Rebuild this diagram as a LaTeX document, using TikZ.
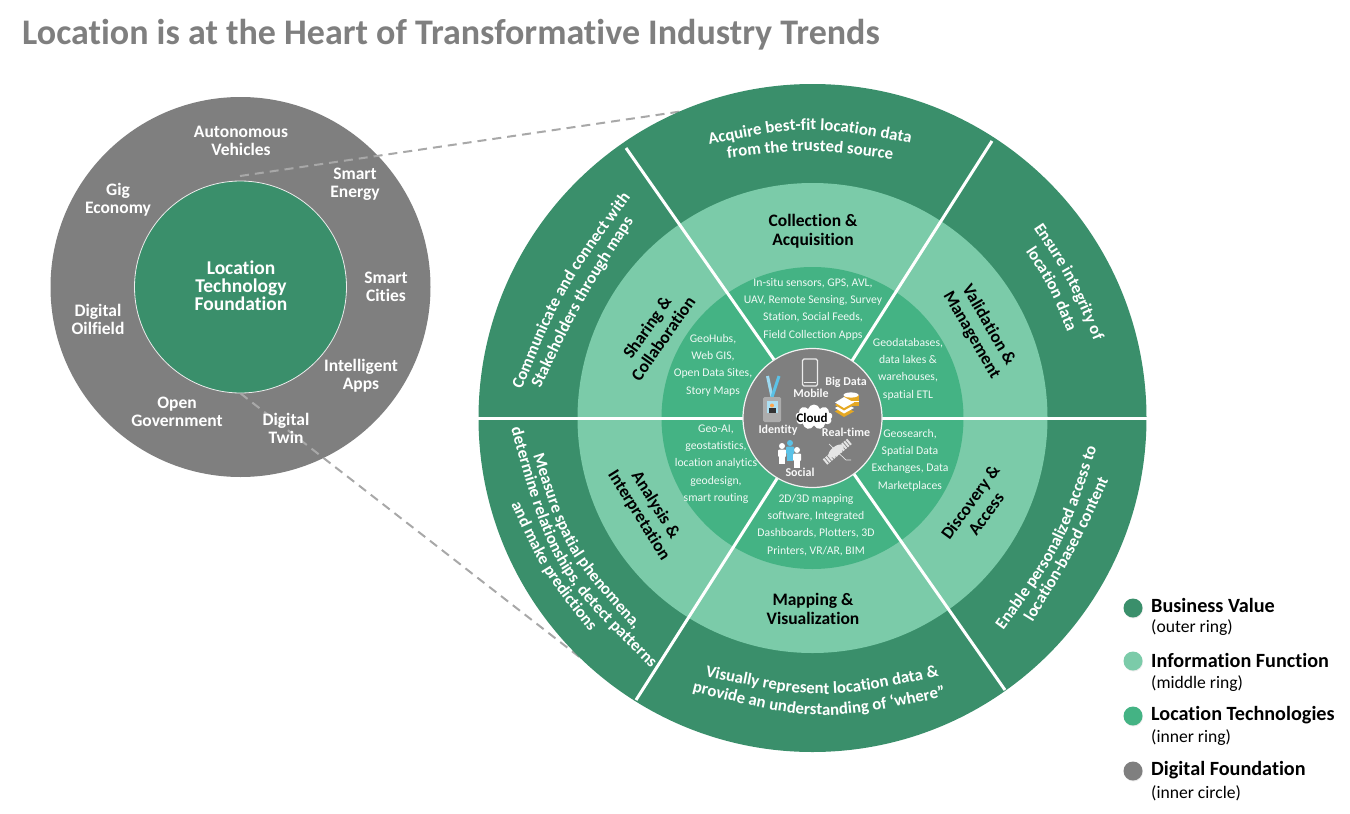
\documentclass[tikz,border=0pt]{standalone}
\usepackage{fontspec}
\usepackage{xcolor}
\setmainfont{Carlito}[Ligatures={NoCommon}]
\usetikzlibrary{calc,shadows,shapes.symbols,decorations.text}

\definecolor{outergreen}{HTML}{3A8F6B}
\definecolor{middlegreen}{HTML}{7BCBA9}
\definecolor{innergreen}{HTML}{44B384}
\definecolor{hubgray}{HTML}{7F7F7F}
\definecolor{dashgray}{HTML}{A8A8A8}
\definecolor{layergold}{HTML}{E5A823}
\definecolor{badgeblue}{HTML}{5BC2E7}

\tikzset{
  disc/.style={circle, inner sep=0pt, minimum size=#1},
  trend/.style={inner sep=0pt, align=center, text=white, font=\fontsize{17.5}{18}\selectfont\bfseries},
  functionlabel/.style={inner sep=0pt, align=center, text=black, font=\fontsize{17.5}{19.5}\selectfont\bfseries},
  techlabel/.style={inner sep=0pt, align=center, text=white!92!innergreen, font=\fontsize{11.7}{17.3}\selectfont},
  hublabel/.style={inner sep=0pt, text=white!95!hubgray, font=\fontsize{12}{13}\selectfont\bfseries},
  spoke/.style={draw=white, line width=3pt},
  linkdash/.style={draw=dashgray, line width=2pt, dash pattern=on 9pt off 6pt},
  legenddot/.style={disc=19pt, drop shadow={opacity=0.15, shadow xshift=0.5pt, shadow yshift=-1pt}},
  legendhead/.style={inner sep=0pt, anchor=west, font=\fontsize{20.2}{21}\selectfont\bfseries},
  legendnote/.style={inner sep=0pt, anchor=west, font=\fontsize{17.6}{19}\selectfont}
}

\newcommand{\bandtext}[4]{%
  \path[decorate, decoration={text along path, text align=center, text={|\fontsize{16.8}{18}\selectfont\bfseries\color{white}|#4}}]
    ($(#1)!-0.08!(#3)$) .. controls ($(#2)!-0.3333!($(#1)!0.5!(#3)$)$) .. ($(#3)!-0.08!(#1)$);}
\newcommand{\iconperson}[3]{%
  \fill[#3] (#1,#2+3) circle (3);
  \fill[#3, rounded corners=1pt] (#1-4,#2+6.5) rectangle (#1+4,#2+14);
  \fill[#3] (#1-3,#2+13) rectangle (#1-0.3,#2+21);
  \fill[#3] (#1+0.3,#2+13) rectangle (#1+3,#2+21);}

\begin{document}
\begin{tikzpicture}[x=1pt, y=-1pt]
\useasboundingbox (0,0) rectangle (1350,814);

\node[inner sep=0pt, anchor=base west, text=hubgray, font=\fontsize{36}{38}\selectfont\bfseries] (title) at (22,44) {Location is at the Heart of Transformative Industry Trends};

\node[disc=380pt, fill=hubgray] (foundation) at (240.5,287) {};
\node[disc=212pt, fill=outergreen, draw=white!85!hubgray, line width=0.8pt] (techcircle) at (240.5,287) {};
\coordinate (upperfrom) at (240,176);
\coordinate (upperto) at (684,111);
\coordinate (lowerto) at (582,659);
\draw[linkdash] (upperfrom) -- (upperto);
\draw[linkdash] (techcircle.south) -- (lowerto);

\node[trend] (autonomous) at (241,141) {Autonomous\\Vehicles};
\node[trend] (gig) at (118,200) {Gig\\Economy};
\node[trend] (energy) at (355,184) {Smart\\Energy};
\node[trend] (cities) at (386,287) {Smart\\Cities};
\node[trend] (oilfield) at (98,319) {Digital\\Oilfield};
\node[trend] (apps) at (361,376) {Intelligent\\Apps};
\node[trend] (government) at (177,412) {Open\\Government};
\node[trend] (twin) at (286,428) {Digital\\Twin};
\node[trend, font=\fontsize{19.5}{18}\selectfont\bfseries] (foundationlabel) at (241,286) {Location\\Technology\\Foundation};

\node[disc=668pt, fill=outergreen] (outerring) at (812.5,418) {};
\node[disc=470pt, fill=middlegreen] (middlering) at (812.5,418) {};
\node[disc=302pt, fill=innergreen] (innerring) at (812.5,418) {};

\coordinate (spokeNW) at (626,148);
\coordinate (spokeNE) at (992,141);
\coordinate (spokeSE) at (1005,690);
\coordinate (spokeSW) at (636,700);
\draw[spoke] (outerring.west) -- (outerring.east);
\draw[spoke] (spokeNW) -- (spokeSE);
\draw[spoke] (spokeNE) -- (spokeSW);

\node[disc=139pt, fill=hubgray, draw=white!90!hubgray, line width=1.2pt] (hub) at (812.5,418) {};

\bandtext{708,148}{810,130}{912,147}{Acquire best-fit location data}
\bandtext{727,160}{810,151}{893,161}{from the trusted source}
\bandtext{525,387}{567,290}{630,202}{Communicate and connect with}
\bandtext{543,385}{583,303}{632,225}{Stakeholders through maps}
\bandtext{1033,229}{1067,281}{1093,341}{Ensure integrity of}
\bandtext{1026,253}{1049,289}{1066,331}{location data}
\bandtext{1002,628}{1060,545}{1094,448}{Enable personalized access to}
\bandtext{1032,622}{1075,550}{1108,480}{location-based content}
\bandtext{708,673}{822,694}{936,673}{Visually represent location data {\&}}
\bandtext{693,687}{820,715}{945,692}{provide an understanding of ‘where”}
\bandtext{538,460}{570,550}{633,623}{Measure spatial phenomena,}
\bandtext{517,430}{559,564}{653,662}{determine relationships, detect patterns}
\bandtext{513,505}{545,572}{590,630}{and make predictions}

\node[functionlabel] (collection) at (813,231) {Collection \&\\Acquisition};
\node[functionlabel, rotate=-60] (validation) at (980,330) {Validation \&\\Management};
\node[functionlabel, rotate=54] (discovery) at (978,508) {Discovery \&\\Access};
\node[functionlabel] (mapping) at (813,609) {Mapping \&\\Visualization};
\node[functionlabel, rotate=-58] (analysis) at (647,510) {Analysis \&\\Interpretation};
\node[functionlabel, rotate=55] (sharing) at (655,333) {Sharing \&\\Collaboration};

\node[techlabel] (sensors) at (813,309) {In-situ sensors, GPS, AVL,\\UAV, Remote Sensing, Survey\\Station, Social Feeds,\\Field Collection Apps};
\node[techlabel] (databases) at (908,369) {Geodatabases,\\data lakes \&\\warehouses,\\spatial ETL};
\node[techlabel] (geosearch) at (910,460) {Geosearch,\\Spatial Data\\Exchanges, Data\\Marketplaces};
\node[techlabel] (software) at (816,525) {2D/3D mapping\\software, Integrated\\Dashboards, Plotters, 3D\\Printers, VR/AR, BIM};
\node[techlabel] (geoai) at (716,464) {Geo-AI,\\geostatistics,\\location analytics\\geodesign,\\smart routing};
\node[techlabel] (geohubs) at (713,365) {GeoHubs,\\Web GIS,\\Open Data Sites,\\Story Maps};

\draw[white!85!hubgray, line width=1.3pt, rounded corners=1.5pt, fill=hubgray] (802.5,359) rectangle (817.5,386);
\draw[white!85!hubgray, line width=0.7pt] (804,382.5) -- (816,382.5);

\draw[badgeblue!60!white, line width=3pt] (767.5,376) -- (772,397);
\draw[badgeblue, line width=3pt] (779,376) -- (772,397);
\fill[white!35!hubgray, rounded corners=1.5pt] (763,397) rectangle (781,422);
\fill[badgeblue!50!white] (766.5,401) rectangle (777.5,413);
\fill[black!80] (768.5,413) rectangle (775.5,408);
\fill[orange!70!white] (772,405.5) circle (2);

\node[cloud, cloud puffs=9, aspect=1.5, fill=white, inner sep=0pt, minimum width=37pt, minimum height=25pt] (cloudicon) at (814,417) {};
\node[hublabel, text=black, font=\fontsize{13}{13}\selectfont\bfseries] (cloudlabel) at (812,418) {Cloud};

\fill[layergold] (843.5,395) rectangle (858.5,406);
\fill[white] (851,395) ellipse (7.5 and 2.6);
\fill[white] (843.5,400.5) rectangle (858.5,402);
\fill[layergold] (844,406) -- (854,411.5) -- (844,417) -- (835,411.5) -- cycle;
\fill[white] (844,402.5) -- (854,408) -- (844,413.5) -- (835,408) -- cycle;
\fill[layergold] (844,399.5) -- (854,405) -- (844,410.5) -- (835,405) -- cycle;
\fill[white] (844,397) -- (854,402.5) -- (844,408) -- (835,402.5) -- cycle;

\iconperson{782}{443}{white}
\iconperson{797}{447}{white}
\iconperson{790}{440}{badgeblue}

\draw[white!80!hubgray, line width=7pt, dash pattern=on 2pt off 1pt] (825,462) -- (850,441);
\fill[white!80!hubgray, rotate around={38:(836,451)}] (836,451) ellipse (9 and 4.5);
\draw[white!80!hubgray, line width=0.7pt] (829,444) -- (846,460) -- (851,460);

\node[hublabel] (mobile) at (811,393) {Mobile};
\node[hublabel] (bigdata) at (846,382) {Big Data};
\node[hublabel] (identity) at (778,430) {Identity};
\node[hublabel] (realtime) at (846,432) {Real-time};
\node[hublabel] (social) at (800,472) {Social};

\node[legenddot, fill=outergreen] (valuedot) at (1133,608) {};
\node[legenddot, fill=middlegreen] (functiondot) at (1133,661) {};
\node[legenddot, fill=innergreen] (techdot) at (1133,716) {};
\node[legenddot, fill=hubgray] (foundationdot) at (1133,771) {};
\node[legendhead] (valuehead) at (1151,605) {Business Value};
\node[legendnote] (valuenote) at (1151,628) {(outer ring)};
\node[legendhead] (functionhead) at (1151,660) {Information Function};
\node[legendnote] (functionnote) at (1151,684) {(middle ring)};
\node[legendhead] (techhead) at (1151,715) {Location Technologies};
\node[legendnote] (technote) at (1151,738) {(inner ring)};
\node[legendhead] (foundationhead) at (1151,770) {Digital Foundation};
\node[legendnote] (foundationnote) at (1151,793) {(inner circle)};
\end{tikzpicture}
\end{document}
